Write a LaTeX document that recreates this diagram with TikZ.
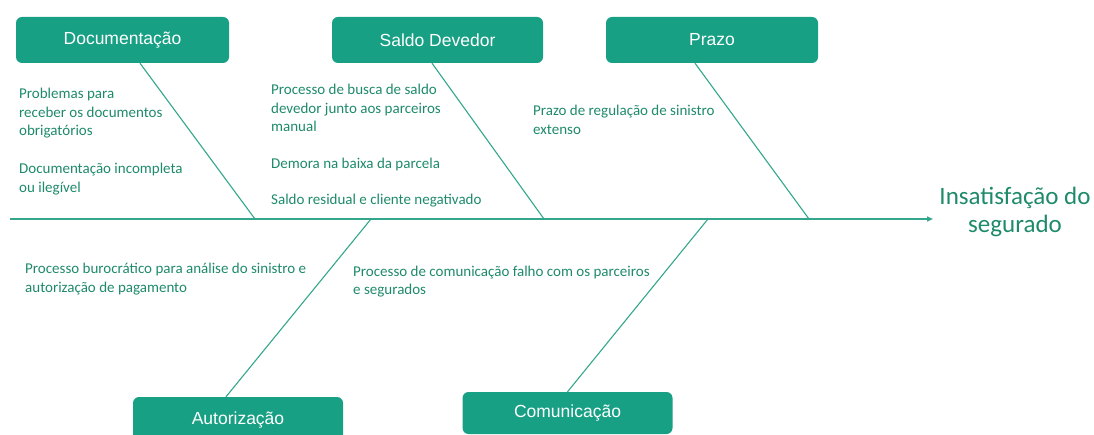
\documentclass[tikz,border=0pt]{standalone}
\usepackage{fontspec}
\setmainfont{Carlito}
\newfontfamily\boxfont{Liberation Sans}
\usetikzlibrary{arrows.meta}
\definecolor{boxfill}{RGB}{23,160,132}
\definecolor{txtgreen}{RGB}{30,138,106}
\definecolor{bonecol}{RGB}{52,166,140}
\tikzset{
  catbox/.style={fill=boxfill, draw=none, rounded corners=6pt, text=white,
    font=\boxfont\fontsize{17.5}{20}\selectfont, minimum width=212pt, minimum height=46pt, inner sep=0pt},
  cause/.style={anchor=north west, align=left, inner sep=0pt, text=txtgreen,
    font=\fontsize{15}{18.5}\selectfont},
  bone/.style={draw=bonecol, line width=1.1pt},
  spine/.style={draw=bonecol, line width=1.4pt, -{Triangle[length=6pt,width=5pt]}},
  effect/.style={align=center, inner sep=0pt, text=txtgreen, font=\fontsize{25}{28}\selectfont}
}
\begin{document}
\begin{tikzpicture}[x=1pt,y=-1pt]
\useasboundingbox (0,0) rectangle (1094,435);
% category boxes
\node[catbox, minimum width=213pt] (doc) at (122.5,40) {Documentação};
\node[catbox, minimum width=211pt] (sal) at (437.5,40) {Saldo Devedor};
\node[catbox, minimum width=212pt] (pra) at (712,40) {Prazo};
\node[catbox, minimum width=210pt] (aut) at (238,420) {Autorização};
\node[catbox, minimum width=210pt, minimum height=42pt] (com) at (567.5,413) {Comunicação};
% spine
\coordinate (s0) at (10,219);
\coordinate (s1) at (933,219);
\draw[spine] (s0) -- (s1);
% bone endpoints on the spine
\coordinate (jd) at (255,219);
\coordinate (js) at (544,219);
\coordinate (jp) at (809,219);
\coordinate (ja) at (371,219);
\coordinate (jc) at (708,219);
\draw[bone] ([xshift=17.5pt]doc.south) -- (jd);
\draw[bone] ([xshift=-5.5pt]sal.south) -- (js);
\draw[bone] ([xshift=-17pt]pra.south) -- (jp);
\draw[bone] ([xshift=-12pt]aut.north) -- (ja);
\draw[bone] (com.north) -- (jc);
% causes
\node[cause] (c1) at (19,88) {Problemas para\\receber os documentos\\obrigatórios};
\node[cause] (c2) at (19,163) {Documentação incompleta\\ou ilegível};
\node[cause] (c3) at (271,84) {Processo de busca de saldo\\devedor junto aos parceiros\\manual};
\node[cause] (c4) at (271,158) {Demora na baixa da parcela};
\node[cause] (c5) at (271,194) {Saldo residual e cliente negativado};
\node[cause] (c6) at (533,105) {Prazo de regulação de sinistro\\extenso};
\node[cause] (c7) at (25,263) {Processo burocrático para análise do sinistro e\\autorização de pagamento};
\node[cause] (c8) at (353,265.5) {Processo de comunicação falho com os parceiros\\e segurados};
% effect
\node[effect] (eff) at (1015,212) {Insatisfação do\\segurado};
\end{tikzpicture}
\end{document}
